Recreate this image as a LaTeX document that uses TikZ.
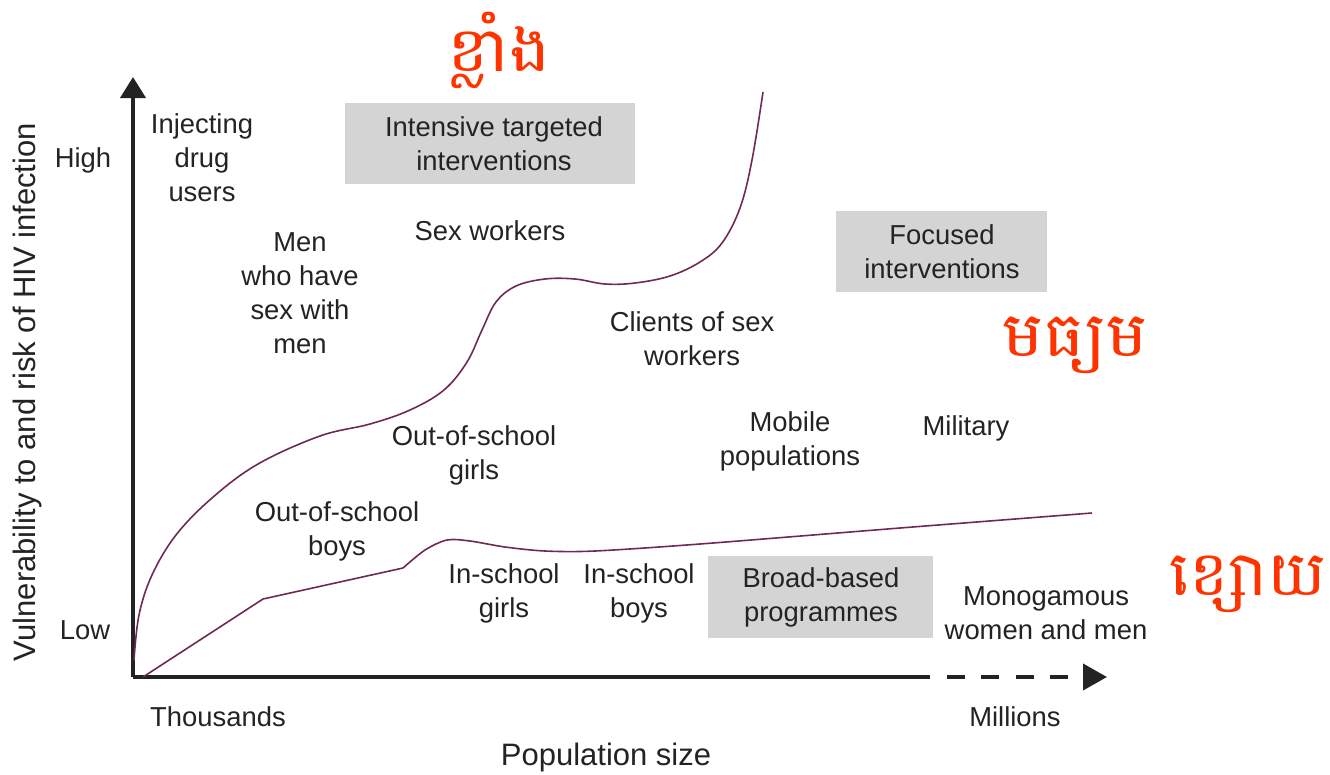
\documentclass[tikz,border=0pt]{standalone}
\usepackage{fontspec}
\setmainfont{Liberation Sans}
\newfontfamily\khmer[Script=Khmer]{Battambang}
\usetikzlibrary{arrows.meta}
\definecolor{txt}{HTML}{232323}
\definecolor{curve}{HTML}{6E2A55}
\definecolor{boxgray}{HTML}{D4D4D4}
\definecolor{khred}{HTML}{FF3300}
\tikzset{
  lbl/.style={font=\fontsize{27.4}{34}\selectfont, text=txt, align=center, inner sep=0pt},
  biglbl/.style={lbl, font=\fontsize{31}{36}\selectfont},
  graybox/.style={fill=boxgray, draw=none},
  axis/.style={line width=4pt, draw=txt},
  crv/.style={line width=1.6pt, draw=curve},
  kh/.style={font=\khmer\fontsize{62}{74}\selectfont, text=khred, inner sep=0pt, xscale=1.12}
}
\begin{document}
\begin{tikzpicture}[x=1pt,y=-1pt]
\useasboundingbox (0,0) rectangle (1330,774);
% axes
\coordinate (O) at (133,677);
\coordinate (ytip) at (133,77);
\coordinate (xmid) at (912,677);
\coordinate (xtip) at (1107,677);
\draw[axis, -{Triangle[length=21pt,width=25pt]}] (O) -- (ytip);
\draw[axis] (O) -- (xmid);
\draw[axis, dash pattern=on 18pt off 16.5pt, -{Triangle[length=24pt,width=26pt]}] (xmid) -- (xtip);
% boxes
\node[graybox, minimum width=290pt, minimum height=81pt] (b1) at (490,143.5) {};
\node[graybox, minimum width=211pt, minimum height=81pt] (b2) at (941.5,251.5) {};
\node[graybox, minimum width=225pt, minimum height=82pt] (b3) at (820.5,597) {};
% curves
\draw[crv] plot[smooth, tension=0.6] coordinates {(134,660) (139,615) (152,575) (176,535) (212,498) (258,464) (320,436) (370,424) (410,410) (444,390) (467,362) (482,330) (496,302) (516,286) (545,279) (575,279) (605,284) (635,283) (670,276) (700,262) (722,243) (740,208) (752,160) (763,92)};
\draw[crv] (143,677) -- (263,599) -- (403,568);
\draw[crv] plot[smooth, tension=0.5] coordinates {(403,568) (425,550) (447,540) (470,541) (505,547) (545,551) (595,551) (700,544) (900,528) (1092,513)};
% labels
\node[lbl] (high) at (83,160) {High};
\node[lbl] (low) at (85,630) {Low};
\node[biglbl, rotate=90] (ylab) at (27,392) {Vulnerability to and risk of HIV infection};
\node[lbl] (idu) at (202,158) {Injecting\\drug\\users};
\node[lbl] (itt) at (494,143.5) {Intensive targeted\\interventions};
\node[lbl] (sw) at (490,231) {Sex workers};
\node[lbl] (msm) at (300,293) {Men\\who have\\sex with\\men};
\node[lbl] (fi) at (942,252) {Focused\\interventions};
\node[lbl] (csw) at (692,338.5) {Clients of sex\\workers};
\node[lbl] (osg) at (474,455) {Out-of-school\\girls};
\node[lbl] (mob) at (790,441) {Mobile\\populations};
\node[lbl] (mil) at (966,428) {Military};
\node[lbl] (osb) at (337,531) {Out-of-school\\boys};
\node[lbl] (isg) at (504,593.5) {In-school\\girls};
\node[lbl] (isb) at (639,593.5) {In-school\\boys};
\node[lbl] (bbp) at (821,597.5) {Broad-based\\programmes};
\node[lbl] (mono) at (1046,613) {Monogamous\\women and men};
\node[lbl] (thou) at (218,717) {Thousands};
\node[lbl] (mill) at (1015,717) {Millions};
\node[biglbl] (pop) at (606,757) {Population size};
% Khmer
\node[kh] (k1) at (499,50) {ខ្លាំង};
\node[kh] (k2) at (1075,345) {មធ្យម};
\node[kh, xscale=0.95] (k3) at (1248,584) {ខ្សោយ};
\end{tikzpicture}
\end{document}
